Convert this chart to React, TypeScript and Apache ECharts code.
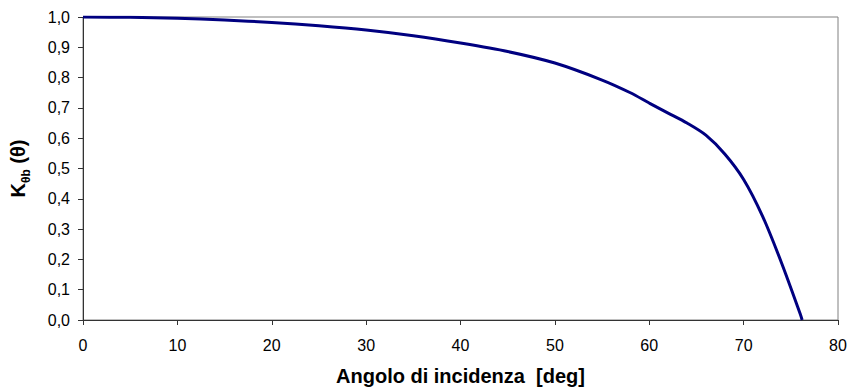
import React, { useEffect, useRef } from "react";
import * as echarts from "echarts";

const angles = [0, 5, 10, 15, 20, 25, 30, 35, 40, 45, 50, 55, 58, 60, 62, 64, 66, 68, 70, 72, 74, 76, 76.2];
const kValues = [1.0, 0.999, 0.996, 0.99, 0.982, 0.971, 0.957, 0.938, 0.914, 0.886, 0.848, 0.792, 0.75, 0.716, 0.683, 0.65, 0.61, 0.548, 0.464, 0.343, 0.19, 0.02, 0.0];
const xTitle = "Angolo di incidenza\u00a0\u00a0[deg]";

export default function App() {
  const ref = useRef<HTMLDivElement>(null);
  useEffect(() => {
    const chart = echarts.init(ref.current!, null, { renderer: "svg" });
    const font = "'Liberation Sans', Arial, sans-serif";
    chart.setOption({
      animation: false,
      backgroundColor: "#ffffff",
      grid: { left: 81, top: 17, right: 12, bottom: 70, show: true, borderColor: "#808080", borderWidth: 1 },
      xAxis: {
        type: "value",
        min: 0,
        max: 80,
        interval: 10,
        name: xTitle,
        nameLocation: "middle",
        nameGap: 46,
        nameTextStyle: { fontFamily: font, fontSize: 20, fontWeight: "bold", color: "#000" },
        axisLine: { show: true, onZero: false, lineStyle: { color: "#333", width: 1 } },
        axisTick: { show: true, length: 5, lineStyle: { color: "#333" } },
        axisLabel: { fontFamily: font, fontSize: 16, color: "#000", margin: 17 },
        splitLine: { show: false },
      },
      yAxis: {
        type: "value",
        min: 0,
        max: 1,
        interval: 0.1,
        name: "{k|K}{s|θb}{r| (θ)}",
        nameLocation: "middle",
        nameGap: 51,
        nameTextStyle: {
          fontFamily: font,
          color: "#000",
          rich: {
            k: { fontFamily: font, fontSize: 20, fontWeight: "bold", color: "#000", lineHeight: 24, verticalAlign: "top" },
            s: { fontFamily: font, fontSize: 12, fontWeight: "bold", color: "#000", lineHeight: 24, verticalAlign: "bottom", padding: [9, 0, 0, 0] },
            r: { fontFamily: font, fontSize: 20, fontWeight: "bold", color: "#000", lineHeight: 24, verticalAlign: "top" },
          },
        },
        axisLine: { show: true, lineStyle: { color: "#333", width: 1 } },
        axisTick: { show: true, length: 5, lineStyle: { color: "#333" } },
        axisLabel: {
          fontFamily: font,
          fontSize: 16,
          color: "#000",
          margin: 13,
          formatter: (v: number) => v.toFixed(1).replace(".", ","),
        },
        splitLine: { show: false },
      },
      series: [
        {
          type: "line",
          data: angles.map((a, i) => [a, kValues[i]]),
          smooth: 0.3,
          showSymbol: false,
          lineStyle: { color: "#000080", width: 3 },
        },
      ],
    });
    return () => chart.dispose();
  }, []);
  return <div ref={ref} style={{ width: 850, height: 391, position: "absolute", left: 0, top: 0 }} />;
}
